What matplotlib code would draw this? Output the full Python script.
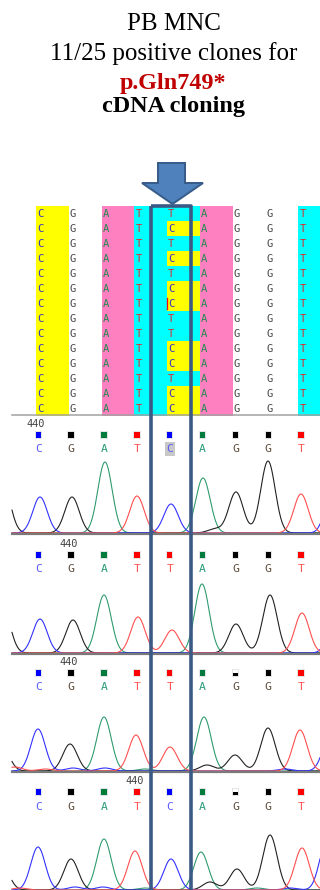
"""Clone alignment and sequencing traces at the p.Gln749* site (PB MNC cDNA clones)."""

import matplotlib

matplotlib.use("Agg")

import matplotlib.pyplot as plt
import numpy as np
from matplotlib.patches import Polygon, Rectangle

# reference window; column index 4 is the variable site
REF_BASES = ["C", "G", "A", "T", None, "A", "G", "G", "T"]
CLONE_SITE_CALLS = ["T", "C", "T", "C", "T", "C", "C", "T", "T", "C", "C", "T", "C", "C"]

# four sequencing traces: called bases, peak centres and peak heights (px)
TRACE_CALLS = ["CGATCAGGT", "CGATTAGGT", "CGATTAGGT", "CGATCAGGT"]
TRACE_PEAK_X = [
    [40, 72, 105, 137, 171, 203, 236, 268, 301],
    [40, 73, 104, 138, 172, 202, 236, 270, 302],
    [38, 70, 104, 136, 170, 204, 235, 268, 300],
    [38, 71, 104, 135, 171, 201, 237, 270, 302],
]
TRACE_PEAK_H = [
    [36, 36, 71, 37, 29, 55, 41, 72, 39],
    [34, 33, 58, 36, 23, 69, 29, 58, 40],
    [42, 27, 54, 36, 24, 54, 16, 43, 41],
    [43, 31, 51, 39, 31, 38, 21, 55, 42],
]
# flanking peaks cut by the window and small background signal
TRACE_EXTRA = [
    [("G", 3, 50), ("C", 334, 60), ("G", 215, 4)],
    [("G", 3, 45), ("C", 336, 40)],
    [("G", 2, 25), ("C", 330, 35), ("T", 15, 4), ("T", 45, 2), ("C", 73, 3),
     ("C", 105, 3), ("A", 145, 2), ("G", 207, 6), ("C", 285, 2)],
    [("G", 2, 25), ("C", 327, 50), ("T", 20, 2), ("C", 75, 3), ("C", 103, 3),
     ("A", 145, 2), ("G", 210, 8), ("A", 257, 2), ("C", 290, 2)],
]
MARKER_FILL = [
    [1, 1, 1, 1, 1, 1, 1, 1, 1],
    [1, 1, 1, 1, 1, 1, 1, 1, 1],
    [1, 1, 1, 1, 1, 1, 0.5, 1, 1],
    [1, 1, 1, 1, 1, 1, 0.5, 1, 1],
]
LABEL_440_INDEX = [0, 1, 1, 3]
TRACE_TOPS = [415, 535, 653, 772]

CELL_COLORS = {"C": "#ffff00", "T": "#00ffff", "A": "#ff80c0", "G": None}
ALIGN_TEXT = {"C": "#3434c8", "G": "#4a4a4a", "A": "#208a50", "T": "#e02828"}
TRACE_COLORS = {"C": "#3030ff", "G": "#202020", "A": "#2e9a6e", "T": "#ff4d4d"}
MARK_COLORS = {"C": "#0000ff", "G": "#000000", "A": "#007a3d", "T": "#ff0000"}
CALL_TEXT = {"C": "#5a5aff", "G": "#5c4a38", "A": "#2a9a7a", "T": "#ff5050"}

PX = 72 / 100  # points per pixel


def draw_title(ax):
    serif = "Liberation Serif"
    cx = 173.5
    ax.text(cx, 30, "PB MNC", ha="center", va="baseline", fontsize=18, family=serif)
    ax.text(cx, 60, "11/25 positive clones for", ha="center", va="baseline",
            fontsize=18, family=serif)
    ax.text(cx, 89, "p.Gln749*", ha="center", va="baseline", fontsize=17.4,
            family=serif, weight="bold", color="#c00000")
    ax.text(cx, 112, "cDNA cloning", ha="center", va="baseline", fontsize=17.4,
            family=serif, weight="bold")


def draw_alignment(ax):
    top, row_h = 206, 15
    col_left = [36 + 32.8 * i for i in range(len(REF_BASES))]
    for r, site in enumerate(CLONE_SITE_CALLS):
        y0 = top + r * row_h
        for c, ref in enumerate(REF_BASES):
            base = site if ref is None else ref
            fill = CELL_COLORS[base]
            if fill:
                ax.add_patch(Rectangle((col_left[c], y0), 33.2, row_h,
                                       facecolor=fill, edgecolor="none", zorder=1))
            ax.text(col_left[c] + 1, y0 + row_h / 2 + 0.5, base, ha="left",
                    va="center", fontsize=7.6, family="DejaVu Sans Mono",
                    color=ALIGN_TEXT[base], zorder=2)
    # cursor mark in row 7
    ax.plot([166.5, 166.5], [top + 6 * row_h + 2, top + 6 * row_h + 13],
            color="#ff0000", lw=1.3 * PX, zorder=3)
    ax.plot([12, 320], [415, 415], color="#a0a0a0", lw=1.5 * PX, zorder=2)


def draw_trace(ax, k):
    top = TRACE_TOPS[k]
    base_y = top + 118
    base_x = [38.3 + 32.85 * i for i in range(9)]
    calls = TRACE_CALLS[k]

    lx = base_x[LABEL_440_INDEX[k]] - 2.5
    ax.text(lx, top + 9, "440", ha="center", va="center", fontsize=7.4,
            family="DejaVu Sans Mono", color="#404040", zorder=4)

    for i, b in enumerate(calls):
        w, h = 5.5, 6.5
        x0, y0 = base_x[i] - w / 2, top + 20 - h / 2
        ax.add_patch(Rectangle((x0 - 1, y0 - 1), w + 2, h + 2, facecolor="#e4e4e4",
                               edgecolor="none", zorder=3))
        frac = MARKER_FILL[k][i]
        ax.add_patch(Rectangle((x0, y0 + h * (1 - frac)), w, h * frac,
                               facecolor=MARK_COLORS[b], edgecolor="none", zorder=4))
        if frac < 1:
            ax.add_patch(Rectangle((x0, y0), w, h * (1 - frac), facecolor="white",
                                   edgecolor="none", zorder=4))
        if k == 0 and i == 4:
            ax.add_patch(Rectangle((base_x[i] - 5, top + 27), 10, 14,
                                   facecolor="#c8c8c8", edgecolor="none", zorder=3))
        ax.text(base_x[i], top + 34.5, b, ha="center", va="center", fontsize=8.2,
                family="DejaVu Sans Mono", color=CALL_TEXT[b], zorder=4)

    x = np.linspace(12, 320, 700)
    for b in "AGCT":
        sig = np.zeros_like(x)
        for cb, px_, ph in zip(calls, TRACE_PEAK_X[k], TRACE_PEAK_H[k]):
            if cb == b:
                sig += ph * np.exp(-0.5 * ((x - px_) / 7.2) ** 2)
        for eb, ex, eh in TRACE_EXTRA[k]:
            if eb == b:
                sig += eh * np.exp(-0.5 * ((x - ex) / 7.2) ** 2)
        ax.plot(x, base_y - sig, color=TRACE_COLORS[b], lw=1.1 * PX, zorder=2)

    ax.plot([12, 320], [base_y + 1, base_y + 1], color="#7a7a7a", lw=2.2 * PX,
            zorder=3)


def draw_site_marker(ax):
    edge = "#3a5a85"
    ax.add_patch(Rectangle((151, 205.5), 40, 700, facecolor="none", edgecolor=edge,
                           lw=3.6 * PX, joinstyle="round", zorder=6))
    arrow = [(158, 163), (185, 163), (185, 183), (203, 183), (172.5, 204),
             (142, 183), (158, 183)]
    ax.add_patch(Polygon(arrow, closed=True, facecolor="#4f81bd", edgecolor="#385d8a",
                         lw=2 * PX, zorder=7))


def main() -> None:
    fig = plt.figure(figsize=(3.2, 8.9), dpi=100)
    ax = fig.add_axes([0, 0, 1, 1])
    ax.set_xlim(0, 320)
    ax.set_ylim(890, 0)
    ax.axis("off")

    draw_title(ax)
    draw_alignment(ax)
    for k in range(len(TRACE_CALLS)):
        draw_trace(ax, k)
    draw_site_marker(ax)

    fig.savefig("out.png", dpi=100)
    plt.close(fig)


if __name__ == "__main__":
    main()
